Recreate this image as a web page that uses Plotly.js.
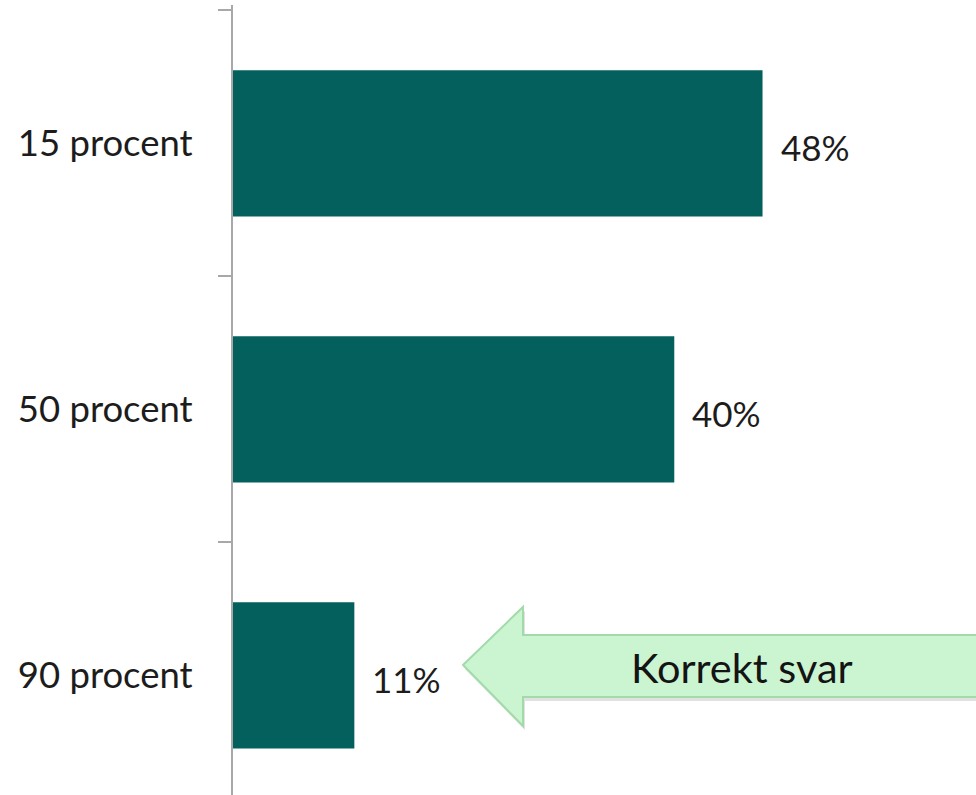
<!DOCTYPE html>
<html>
<head>
<meta charset="utf-8">
<script src="https://cdn.plot.ly/plotly-3.0.1.min.js"></script>
<style>html,body{margin:0;padding:0;background:#fff;}#chart{width:976px;height:795px;}</style>
</head>
<body>
<div id="chart"></div>
<script>
const categories = ["15 procent", "50 procent", "90 procent"];
const values = [48, 40, 11];
const calloutText = "Korrekt svar";

const W = 976, H = 795;
const M = {l: 233, r: 0, t: 5, b: 0};
const pw = W - M.l - M.r, ph = H - M.t - M.b;
function px(x){ return (x - M.l) / pw; }
function py(y){ return (H - M.b - y) / ph; }
function pathFrom(pts, dx, dy){
  return pts.map((p, i) => (i ? 'L' : 'M') + px(p[0] + dx).toFixed(4) + ',' + py(p[1] + dy).toFixed(4)).join(' ') + ' Z';
}
// callout arrow outline (decoration)
const arrowPts = [[463,665],[523,607],[523,635],[990,635],[990,697],[523,697],[523,726]];

const font = "Lato, 'Open Sans', sans-serif";
const teal = "#03605c";

const trace = {
  type: 'bar',
  orientation: 'h',
  x: values,
  y: categories,
  width: 0.55,
  marker: {color: teal},
  hoverinfo: 'none'
};

const annotations = values.map((v, i) => ({
  x: v, y: categories[i], xref: 'x', yref: 'y',
  text: v + '%', showarrow: false, xanchor: 'left', xshift: 16, yshift: -4,
  font: {family: font, size: 35, color: '#1c1c1c'}
}));
annotations.push({
  x: px(742), y: py(667), xref: 'paper', yref: 'paper',
  text: calloutText, showarrow: false, xanchor: 'center', yanchor: 'middle',
  font: {family: font, size: 41.5, color: '#141414'}
});

const layout = {
  width: W, height: H,
  margin: M,
  paper_bgcolor: '#fff', plot_bgcolor: '#fff',
  showlegend: false,
  xaxis: {visible: false, range: [0, 67.35], fixedrange: true},
  yaxis: {
    type: 'category',
    categoryorder: 'array', categoryarray: categories,
    range: [2.45, -0.52],
    showline: true, linecolor: '#a8a8a8', linewidth: 2,
    ticks: 'outside', tickson: 'boundaries', ticklen: 13, tickwidth: 2, tickcolor: '#a8a8a8',
    showgrid: false, zeroline: false,
    ticklabelstandoff: 31,
    tickfont: {family: font, size: 36.5, color: '#1c1c1c'}
  },
  shapes: [
    {type: 'path', xref: 'paper', yref: 'paper', path: pathFrom(arrowPts, 2, 4),
     fillcolor: 'rgba(120,120,120,0.22)', line: {width: 0}, layer: 'above'},
    {type: 'path', xref: 'paper', yref: 'paper', path: pathFrom(arrowPts, 0, 0),
     fillcolor: '#cbf5d1', line: {color: '#a2dba9', width: 2}, layer: 'above'}
  ],
  annotations: annotations
};

Plotly.newPlot('chart', [trace], layout, {displayModeBar: false, staticPlot: true});
</script>
</body>
</html>
